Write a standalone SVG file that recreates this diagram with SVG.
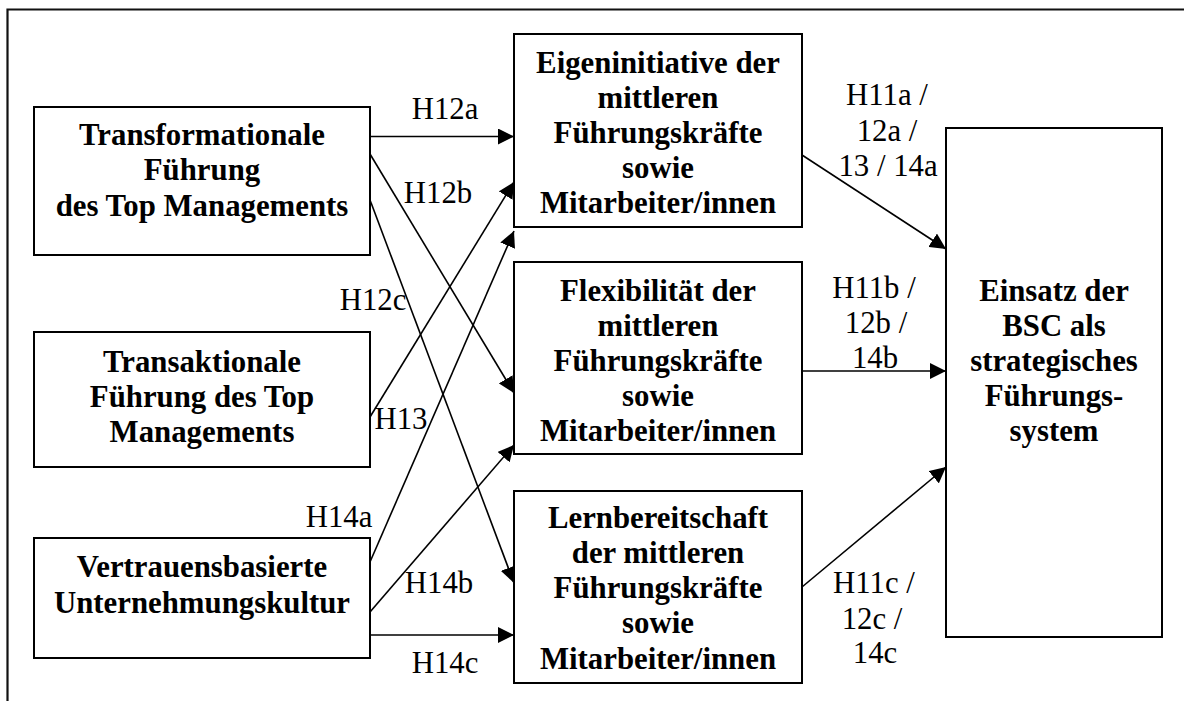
<svg xmlns="http://www.w3.org/2000/svg" width="1184" height="701" viewBox="0 0 1184 701">
  <style>
    .box { fill: #fff; stroke: #000; stroke-width: 2; }
    .frame { fill: none; stroke: #111; stroke-width: 2.2; }
    .edge { fill: none; stroke: #000; stroke-width: 1.6; marker-end: url(#arrow); }
    text { font-family: 'Liberation Serif', 'Times New Roman', Times, serif; font-size: 30.8px; text-anchor: middle; fill: #000; }
    .node { font-weight: bold; }
  </style>
  <defs>
    <marker id="arrow" markerUnits="userSpaceOnUse" viewBox="0 0 16 16" refX="16" refY="8" markerWidth="16" markerHeight="16" orient="auto">
      <path d="M0,0 L16,8 L0,16 z" fill="#000"/>
    </marker>
  </defs>

  <rect width="1184" height="701" fill="#fff"/>
  <path class="frame" d="M7.5,701 V9.5 H1184"/>

  <!-- connectors and their hypothesis labels -->
  <g id="connectors">
    <line class="edge" x1="370" y1="136.5" x2="514" y2="136.5"/>
    <line class="edge" x1="370" y1="154" x2="514" y2="393"/>
    <line class="edge" x1="370" y1="200" x2="514" y2="583"/>
    <line class="edge" x1="370" y1="417" x2="514" y2="182"/>
    <line class="edge" x1="370" y1="562" x2="514" y2="231"/>
    <line class="edge" x1="370" y1="612" x2="514" y2="445"/>
    <line class="edge" x1="370" y1="635" x2="514" y2="635"/>
    <line class="edge" x1="802" y1="155" x2="946" y2="249"/>
    <line class="edge" x1="802" y1="371" x2="946" y2="371"/>
    <line class="edge" x1="802" y1="587" x2="946" y2="467"/>

    <text x="445" y="119">H12a</text>
    <text x="438" y="203">H12b</text>
    <text x="373" y="310">H12c</text>
    <text x="401" y="429">H13</text>
    <text x="339" y="527">H14a</text>
    <text x="439" y="593">H14b</text>
    <text x="445" y="673">H14c</text>

    <text x="887" y="105">H11a /</text>
    <text x="887" y="141">12a /</text>
    <text x="888" y="176">13 / 14a</text>

    <text x="874" y="298">H11b /</text>
    <text x="876" y="333">12b /</text>
    <text x="875" y="368">14b</text>

    <text x="874" y="593">H11c /</text>
    <text x="872" y="629">12c /</text>
    <text x="875" y="663">14c</text>
  </g>

  <!-- source nodes -->
  <g id="transformationale">
    <rect class="box" x="34" y="107" width="336" height="148"/>
    <text class="node" x="202" y="145">Transformationale</text>
    <text class="node" x="202" y="180">Führung</text>
    <text class="node" x="202" y="216">des Top Managements</text>
  </g>
  <g id="transaktionale">
    <rect class="box" x="34" y="332" width="336" height="135"/>
    <text class="node" x="202" y="372">Transaktionale</text>
    <text class="node" x="202" y="407">Führung des Top</text>
    <text class="node" x="202" y="442">Managements</text>
  </g>
  <g id="kultur">
    <rect class="box" x="34" y="538" width="336" height="120"/>
    <text class="node" x="202" y="577">Vertrauensbasierte</text>
    <text class="node" x="202" y="613">Unternehmungskultur</text>
  </g>

  <!-- mediator nodes -->
  <g id="eigeninitiative">
    <rect class="box" x="514" y="34" width="288" height="193"/>
    <text class="node" x="658" y="73">Eigeninitiative der</text>
    <text class="node" x="658" y="108">mittleren</text>
    <text class="node" x="658" y="143">Führungskräfte</text>
    <text class="node" x="658" y="178">sowie</text>
    <text class="node" x="658" y="213">Mitarbeiter/innen</text>
  </g>
  <g id="flexibilitaet">
    <rect class="box" x="514" y="262" width="288" height="192"/>
    <text class="node" x="658" y="301">Flexibilität der</text>
    <text class="node" x="658" y="336">mittleren</text>
    <text class="node" x="658" y="371">Führungskräfte</text>
    <text class="node" x="658" y="406">sowie</text>
    <text class="node" x="658" y="441">Mitarbeiter/innen</text>
  </g>
  <g id="lernbereitschaft">
    <rect class="box" x="514" y="491" width="288" height="192"/>
    <text class="node" x="658" y="528">Lernbereitschaft</text>
    <text class="node" x="658" y="563">der mittleren</text>
    <text class="node" x="658" y="598">Führungskräfte</text>
    <text class="node" x="658" y="633">sowie</text>
    <text class="node" x="658" y="669">Mitarbeiter/innen</text>
  </g>

  <!-- outcome node -->
  <g id="bsc">
    <rect class="box" x="946" y="128" width="216" height="509"/>
    <text class="node" x="1054" y="301">Einsatz der</text>
    <text class="node" x="1054" y="336">BSC als</text>
    <text class="node" x="1054" y="371">strategisches</text>
    <text class="node" x="1054" y="406">Führungs-</text>
    <text class="node" x="1054" y="441">system</text>
  </g>
</svg>
